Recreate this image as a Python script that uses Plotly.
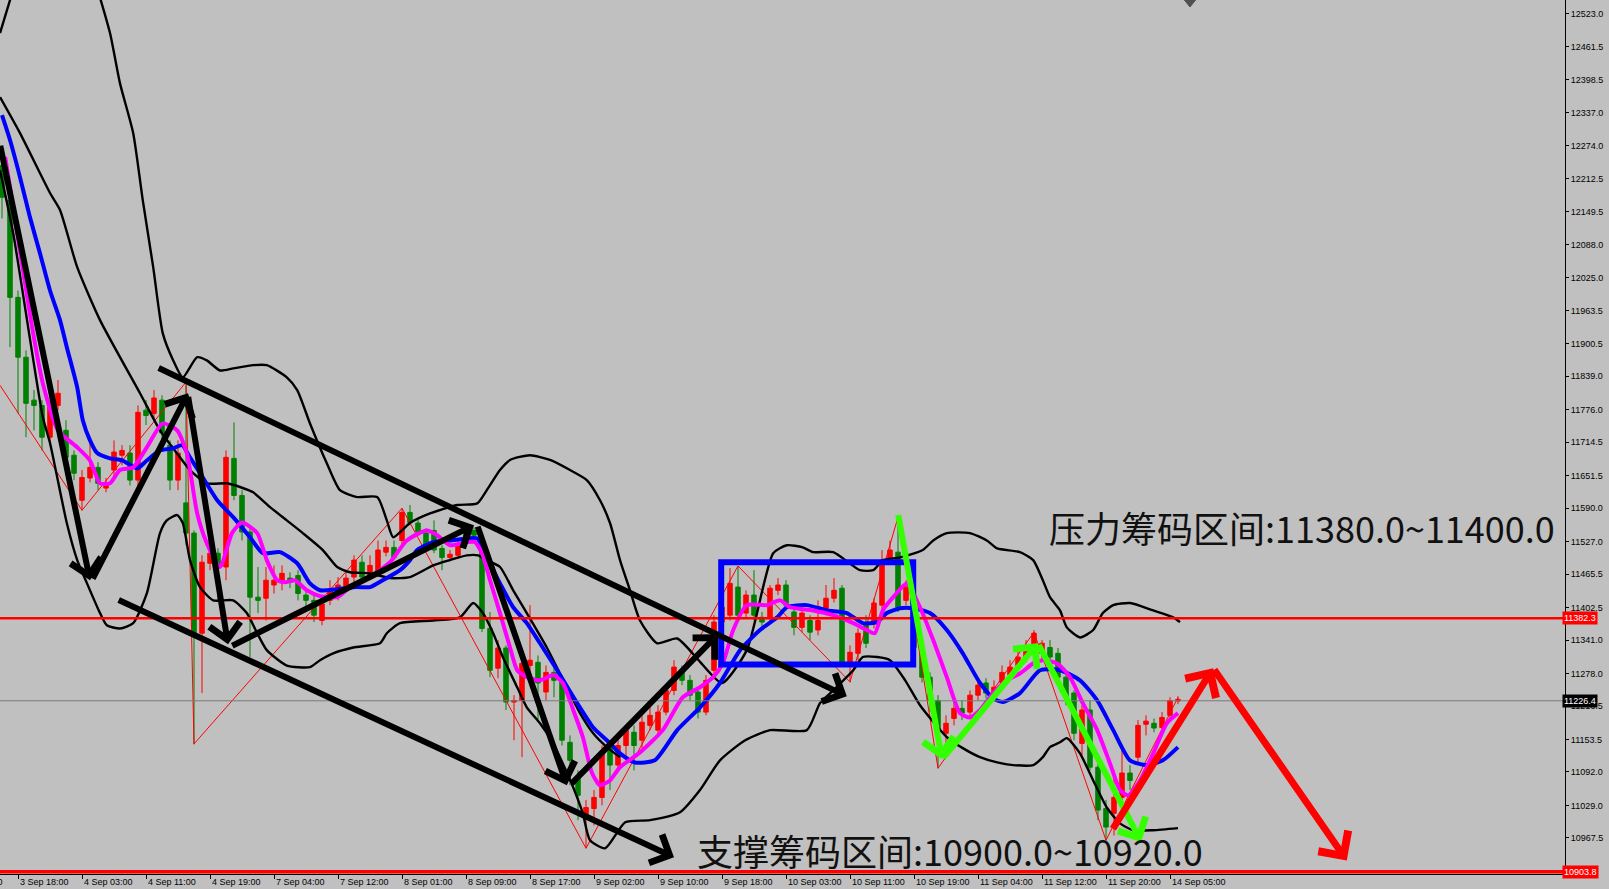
import plotly.graph_objects as go

# ---------------- data ----------------
bars = list(range(148))
opens = [12237,12171,11988,11875,11794,11784,11724,11784,11737,11690,
         11605,11647,11667,11628,11662,11690,11694,11643,11775,11769,
         11794,11709,11643,11600,11543,11354,11486,11505,11479,11684,
         11614,11545,11422,11420,11445,11454,11458,11463,11426,11416,
         11378,11416,11426,11441,11460,11488,11463,11467,11507,11516,
         11529,11582,11562,11543,11548,11514,11497,11501,11548,11548,
         11520,11363,11288,11326,11224,11227,11293,11299,11243,11280,
         11265,11148,11082,11007,11023,11044,11137,11105,11142,11167,
         11152,11180,11171,11205,11246,11280,11265,11243,11205,11284,
         11375,11388,11441,11392,11426,11384,11382,11435,11445,11394,
         11365,11378,11360,11397,11420,11439,11297,11316,11373,11373,
         11407,11492,11507,11416,11403,11327,11271,11227,11165,11193,
         11212,11205,11237,11260,11243,11261,11275,11293,11309,11327,
         11316,11327,11316,11271,11241,11146,11209,11101,11023,11014,
         11044,11090,11120,11182,11184,11176,11199,11226]
closes = [12177,11988,11875,11788,11784,11724,11781,11807,11686,11656,
          11648,11667,11637,11637,11696,11699,11643,11771,11765,11798,
          11732,11643,11694,11543,11354,11488,11505,11479,11686,11614,
          11545,11422,11416,11454,11454,11467,11450,11429,11416,11388,
          11409,11435,11445,11458,11492,11460,11482,11511,11516,11497,
          11582,11563,11545,11520,11511,11497,11503,11520,11529,11539,
          11363,11284,11326,11224,11227,11297,11303,11260,11280,11265,
          11152,11114,11048,11025,11044,11127,11105,11142,11171,11142,
          11186,11199,11205,11246,11290,11265,11237,11205,11265,11375,
          11403,11448,11388,11426,11388,11375,11439,11445,11407,11365,
          11392,11356,11378,11420,11435,11299,11318,11354,11335,11411,
          11492,11511,11403,11441,11327,11271,11227,11171,11184,11212,
          11203,11237,11256,11241,11252,11280,11290,11309,11326,11354,
          11335,11309,11271,11233,11165,11209,11101,11020,10988,11044,
          11090,11076,11180,11188,11175,11195,11227,11229]
highs = [12256,12181,12001,11888,11813,11794,11794,11832,11756,11699,
         11662,11715,11677,11647,11718,11709,11709,11784,11794,11813,
         11803,11718,11718,11822,11548,11501,11520,11514,11699,11752,
         11624,11552,11479,11479,11482,11482,11469,11473,11435,11424,
         11426,11454,11460,11473,11501,11501,11501,11529,11529,11529,
         11590,11596,11571,11552,11567,11520,11511,11529,11558,11554,
         11529,11394,11341,11331,11237,11312,11407,11312,11293,11297,
         11275,11161,11095,11039,11058,11142,11152,11156,11180,11180,
         11199,11218,11218,11256,11303,11293,11275,11250,11275,11388,
         11416,11477,11480,11435,11473,11394,11445,11458,11454,11401,
         11401,11388,11416,11445,11458,11445,11331,11363,11388,11420,
         11511,11529,11573,11454,11416,11341,11280,11237,11199,11227,
         11227,11246,11265,11269,11265,11293,11303,11322,11341,11360,
         11341,11341,11326,11280,11246,11218,11227,11114,11039,11095,
         11133,11105,11190,11199,11193,11205,11233,11235]
lows = [12137,11894,11769,11724,11737,11699,11709,11775,11671,11643,
        11586,11639,11624,11620,11643,11671,11633,11633,11747,11760,
        11718,11624,11624,11520,11144,11241,11473,11416,11454,11605,
        11529,11309,11392,11378,11429,11435,11439,11416,11401,11375,
        11369,11407,11416,11431,11450,11454,11454,11460,11499,11492,
        11520,11558,11539,11511,11505,11473,11492,11496,11520,11529,
        11356,11271,11269,11209,11152,11120,11278,11190,11227,11233,
        11142,11067,11001,10948,10991,11029,11058,11095,11114,11095,
        11137,11171,11161,11199,11237,11256,11227,11193,11199,11275,
        11363,11378,11378,11382,11378,11363,11375,11426,11397,11350,
        11356,11341,11350,11388,11412,11293,11261,11303,11326,11363,
        11397,11486,11394,11407,11318,11261,11205,11099,11142,11180,
        11190,11193,11227,11231,11235,11250,11265,11284,11299,11318,
        11303,11299,11261,11218,11152,11124,11095,11001,10963,10972,
        11035,11058,11105,11161,11167,11171,11190,11220]

# fast MA (magenta)
ma_fast_x = [0.4,3.9,5.1,7,9.4,11,12.25,13.5,14.75,16.4,18.1,20.1,21.9,23.1,24.4,25.6,27.25,28.75,30,31.9,
             33.1,34.4,35.4,36.6,38.1,39.75,41.9,43.5,46,48.5,50.6,53.1,54.4,56,58.1,59.1,60,61,62.25,
             63.5,64.4,65.6,67.25,68.9,70.1,71.4,72.6,73.75,74.75,76,77.25,79.75,82.6,85.1,87.25,88.9,90.1,
             91.4,93.1,95.6,97.25,98.5,101.4,103.9,106.4,108.1,109.1,110.1,111.4,113.1,114.75,116.4,118.1,
             119.75,121,122.25,123.9,125.6,127.25,128.9,130.1,131.9,133.5,135.1,136.9,138.5,139.75,140.75,
             142.25,143.9,145.6,147]
ma_fast_y = [12253,11920,11826,11737,11705,11680,11637,11637,11662,11667,11705,11750,11737,11694,11580,11524,11479,11543,11563,11543,
             11492,11454,11450,11454,11435,11424,11422,11441,11460,11488,11529,11548,11539,11520,11526,11526,11505,11454,11392,
             11327,11284,11271,11265,11275,11260,11209,11158,11090,11067,11076,11101,11129,11171,11233,11252,11271,11297,
             11360,11407,11407,11416,11403,11397,11388,11373,11360,11354,11397,11422,11448,11403,11341,11271,
             11203,11195,11209,11241,11265,11278,11297,11303,11297,11271,11222,11171,11108,11058,11048,
             11076,11127,11184,11203]
# slow MA (blue)
ma_slow_x = [0,1,2.25,3.5,4.75,6,7.25,8.1,9.4,10.1,11,11.9,13.5,15.1,16.9,18.1,19.75,21.4,22.5,23.5,25.1,26.9,28.9,31,32.6,
             34.75,36.9,38.5,39.75,41.9,44.4,46,47.6,49.75,51,51.9,53.9,56,58.1,59.4,60.6,62.25,63.9,65.6,67.25,
             69.4,71.9,73.9,75.6,77.25,79.1,81.6,84.4,87.25,89.75,92.25,94.75,96.9,98.1,100.6,103.1,105.6,107.6,109.4,110.6,
             112.25,113.9,116,118.1,120.1,122.25,123.9,125.1,127.25,129.75,132.25,134.75,136.9,138.9,141,143.1,145.1,147]
ma_slow_y = [12332,12285,12215,12139,12071,12001,11945,11894,11818,11756,11718,11694,11684,11680,11665,11680,11699,11703,11709,11686,
             11648,11605,11573,11535,11505,11507,11486,11448,11435,11437,11441,11441,11454,11473,11492,11511,11526,11529,11533,11533,
             11497,11448,11403,11373,11335,11284,11222,11176,11152,11127,11110,11114,11171,11214,11260,11322,11360,11384,11403,11407,
             11397,11392,11373,11375,11392,11401,11401,11392,11360,11316,11260,11231,11224,11241,11284,11284,11265,11227,11171,11114,
             11105,11114,11139]

# bands (black)
band_a_x = [-0.25,1,1.4]
band_a_y = [12487,12549,12568]
band_up_x = [11.6,13.5,14.75,16.4,17.6,18.9,20.1,21.4,22.6,24.4,25.6,27.25,28.9,31.4,33.1,35.6,36.9,38.5,40.6,42.25,44.4,46.9,
             48.1,48.9,51,53.5,56.9,59.4,60.6,62.25,63.5,66,68.5,71,73.1,74.75,76,77.25,78.5,79.75,81.9,84.4,87.25,90,93.1,
             96.4,98.1,100.1,101.4,103.9,107.25,108.9,110.1,112.25,115.1,116.4,118.1,121,123.1,124.4,127.25,128.9,130.1,131,
             132.25,133.1,134.75,136.4,137.6,138.9,141,143.9,146.4,147.25]
band_up_y = [12587,12487,12392,12298,12171,12045,11920,11869,11837,11875,11869,11850,11854,11860,11860,11837,11813,11750,11675,11624,
             11611,11611,11567,11535,11562,11580,11596,11599,11624,11662,11681,11690,11681,11662,11643,11605,11562,11492,11435,11378,
             11335,11344,11300,11260,11322,11505,11520,11516,11507,11507,11473,11473,11492,11497,11511,11529,11543,11543,11529,11514,
             11507,11492,11454,11422,11397,11365,11346,11360,11392,11407,11411,11397,11384,11375]
band_mid_x = [-0.25,2.25,6,7.25,9.4,12.25,17.25,19.75,21.6,23.5,25.6,28.1,29.75,31.4,33.5,35.6,37.6,40.1,41.9,43.5,46,48.5,51,
              53.9,56,58.1,59.5,60.6,62.25,63.9,65.6,68.1,70.6,72.25,73.9,75.6,77.25]
band_mid_y = [12366,12298,12185,12153,12045,11945,11807,11737,11699,11662,11637,11637,11630,11620,11592,11567,11543,11511,11479,11469,
              11467,11458,11460,11482,11492,11501,11501,11492,11479,11435,11392,11327,11252,11203,11165,11139,11120]
band_lo_x = [-0.25,1.4,5.1,6,8.1,9.4,10.6,12.25,13.1,14.75,16.4,18.1,19.75,20.6,21.9,22.6,23.5,24.75,26.4,28.9,30.6,31.9,33.1,35.6,
             38.5,39.75,41.4,43.9,47.25,48.1,49.75,53.9,57.25,58.9,60.1,61.4,62.6,64.4,65.6,67.25,68.9,70.1,71.4,72.6,73.5,75.4,
             77.9,81,84.75,87.25,89.75,92.9,96,100.6,102.25,103.9,106.4,107.6,109.4,111,112.9,114.75,118.1,120.1,122.25,124.4,
             126.4,128.9,130.1,131,132.25,133.1,134.75,136.4,138.1,139.75,141.4,143.9,147]
band_lo_y = [12228,12109,11762,11713,11562,11492,11449,11392,11369,11363,11373,11429,11543,11567,11577,11562,11492,11441,11416,11416,
             11392,11354,11322,11293,11290,11303,11316,11327,11335,11354,11373,11378,11384,11411,11392,11354,11309,11252,11214,11184,
             11146,11108,11063,11014,10963,10948,10997,11001,11016,11058,11114,11152,11171,11171,11222,11246,11284,11309,11309,11303,
             11265,11218,11158,11137,11120,11110,11105,11105,11120,11139,11148,11156,11127,11076,11025,10995,10982,10982,10986]

# zigzag (thin red)
zigzag_x = [-0.25,10,23,24,50,73,92,106,112,117,129,138,147]
zigzag_y = [11822,11586,11828,11145,11590,10948,11481,11262,11573,11099,11356,10963,11233]

# hand-drawn arrows: (tail bar, tail price, head bar, head price)
black_arrows = [(-0.25,12277,11,11454),(11.25,11454,23.25,11807),(23.25,11803,28.25,11333),
                (28.6,11329,59,11558),(59.4,11558,70.6,11067),(71,11067,89.5,11352),
                (19.4,11856,105.6,11235),(14.4,11418,84,10931)]
green_arrows = [(112,11580,117.5,11116),(117.5,11116,129.5,11335),(129.5,11335,142.4,10960)]
red_arrows = [(138.75,10982,151.4,11288),(151.4,11288,168.1,10925)]
box_bars = (89.9, 113.9)
box_prices = (11295, 11488)

resist_text = "压力筹码区间:11380.0~11400.0"
support_text = "支撑筹码区间:10900.0~10920.0"
resist_pos = (130.6, 11554)
support_pos = (86.6, 10944)

line_resist = 11382.3
line_bottom = 10903.8
line_price = 11226.4

y_ticks = [12523.0,12461.5,12398.5,12337.0,12274.0,12212.5,12149.5,12088.0,12025.0,11963.5,11900.5,11839.0,11776.0,
           11714.5,11651.5,11590.0,11527.0,11465.5,11402.5,11341.0,11278.0,11216.5,11153.5,11092.0,11029.0,10967.5]
x_tick_bars = [2,10,18,26,34,42,50,58,66,74,82,90,98,106,114,122,130,138,146]
x_tick_text = ["3 Sep 18:00","4 Sep 03:00","4 Sep 11:00","4 Sep 19:00","7 Sep 04:00","7 Sep 12:00",
               "8 Sep 01:00","8 Sep 09:00","8 Sep 17:00","9 Sep 02:00","9 Sep 10:00","9 Sep 18:00","10 Sep 03:00",
               "10 Sep 11:00","10 Sep 19:00","11 Sep 04:00","11 Sep 12:00","11 Sep 20:00","14 Sep 05:00"]
x_cut_label = "3 Sep 10:00"

# ---------------- figure ----------------
BG = '#c0c0c0'
fig = go.Figure()

fig.add_trace(go.Scatter(x=zigzag_x, y=zigzag_y, mode='lines', line=dict(color='#ff0000', width=1),
                         hoverinfo='skip', showlegend=False))
for bx, by in [(band_a_x, band_a_y), (band_up_x, band_up_y), (band_mid_x, band_mid_y), (band_lo_x, band_lo_y)]:
    fig.add_trace(go.Scatter(x=bx, y=by, mode='lines', line=dict(color='black', width=2.4, shape='spline', smoothing=0.6),
                             hoverinfo='skip', showlegend=False))

fig.add_trace(go.Candlestick(x=bars, open=opens, high=highs, low=lows, close=closes,
                             increasing=dict(line=dict(color='#ff0000', width=1), fillcolor='#ff0000'),
                             decreasing=dict(line=dict(color='#008000', width=1), fillcolor='#008000'),
                             whiskerwidth=0, hoverinfo='skip', showlegend=False))

fig.add_trace(go.Scatter(x=ma_slow_x, y=ma_slow_y, mode='lines', line=dict(color='#0000ff', width=4, shape='spline', smoothing=0.6),
                         hoverinfo='skip', showlegend=False))
fig.add_trace(go.Scatter(x=ma_fast_x, y=ma_fast_y, mode='lines', line=dict(color='#ff00ff', width=4, shape='spline', smoothing=0.6),
                         hoverinfo='skip', showlegend=False))

# horizontal lines
fig.add_shape(type='line', xref='paper', x0=0, x1=1, yref='y', y0=line_price, y1=line_price,
              line=dict(color='#7a7a7a', width=1))
fig.add_shape(type='line', xref='paper', x0=0, x1=1, yref='y', y0=line_resist, y1=line_resist,
              line=dict(color='#ff0000', width=2.5))
fig.add_shape(type='line', xref='paper', x0=0, x1=1, yref='y', y0=line_bottom, y1=line_bottom,
              line=dict(color='#ff0000', width=3.5))

# blue box
fig.add_shape(type='rect', xref='x', yref='y', x0=box_bars[0], x1=box_bars[1], y0=box_prices[0], y1=box_prices[1],
              line=dict(color='#0000ff', width=6), fillcolor='rgba(0,0,0,0)')

# small shift marker at top
fig.add_shape(type='path', xref='x', yref='paper', path='M 147.8,1 L 149.2,1 L 148.5,0.992 Z',
              fillcolor='#505050', line=dict(color='#505050', width=1))

def arrow(t, color, width, size):
    fig.add_annotation(x=t[2], y=t[3], ax=t[0], ay=t[1], xref='x', yref='y', axref='x', ayref='y',
                       showarrow=True, arrowhead=4, arrowsize=size, arrowwidth=width, arrowcolor=color, text='')

for a in black_arrows:
    arrow(a, 'black', 6, 1.0)
for a in green_arrows:
    arrow(a, '#33ff00', 6, 1.0)
for a in red_arrows:
    arrow(a, '#ff0000', 7, 1.0)

fig.add_annotation(x=resist_pos[0], y=resist_pos[1], text=resist_text, showarrow=False, xanchor='left', yanchor='middle',
                   font=dict(family='Noto Sans CJK SC', size=36, color='#111111'))
fig.add_annotation(x=support_pos[0], y=support_pos[1], text=support_text, showarrow=False, xanchor='left', yanchor='middle',
                   font=dict(family='Noto Sans CJK SC', size=36, color='#111111'))

# x labels (left aligned at tick, MT4 style)
for b, t in zip(x_tick_bars, x_tick_text):
    fig.add_annotation(x=b, y=0, xref='x', yref='paper', text=t, showarrow=False, xanchor='left', yanchor='top',
                       xshift=0, yshift=-1, font=dict(family='Liberation Sans', size=9, color='black'))
fig.add_annotation(x=-0.25, y=0, xref='x', yref='paper', text=x_cut_label, showarrow=False, xanchor='right',
                   yanchor='top', xshift=5, yshift=-1, font=dict(family='Liberation Sans', size=9, color='black'))

# price tags
for val, bg in [(line_resist, '#ff0000'), (line_price, '#000000'), (line_bottom, '#ff0000')]:
    fig.add_annotation(xref='paper', x=1, y=val, yref='y', text=f"{val:.1f}", showarrow=False, xanchor='left',
                       yanchor='middle', bgcolor=bg, borderpad=1, xshift=-3,
                       font=dict(family='Liberation Sans', size=9, color='white'))

fig.update_layout(
    width=1609, height=889,
    margin=dict(l=0, r=44, t=0, b=15),
    paper_bgcolor=BG, plot_bgcolor=BG,
    showlegend=False, boxgap=0.2,
    xaxis=dict(range=[-0.25, 195.375], showgrid=False, zeroline=False, tickvals=x_tick_bars, ticks='outside',
               ticklen=4, tickcolor='black', showticklabels=False, showline=True, linecolor='black', mirror=True,
               rangeslider=dict(visible=False), fixedrange=True),
    yaxis=dict(range=[10899.4, 12549.4], side='right', showgrid=False, zeroline=False, tickvals=y_ticks,
               ticktext=[f"{v:.1f}" for v in y_ticks], ticks='outside', ticklen=3, tickcolor='black',
               tickfont=dict(family='Liberation Sans', size=9, color='black'), showline=True, linecolor='black',
               mirror=True, fixedrange=True),
)

fig.write_html("out.html", config={'displayModeBar': False, 'staticPlot': True},
               post_script="document.body.style.margin='0px';document.body.style.overflow='hidden';")
